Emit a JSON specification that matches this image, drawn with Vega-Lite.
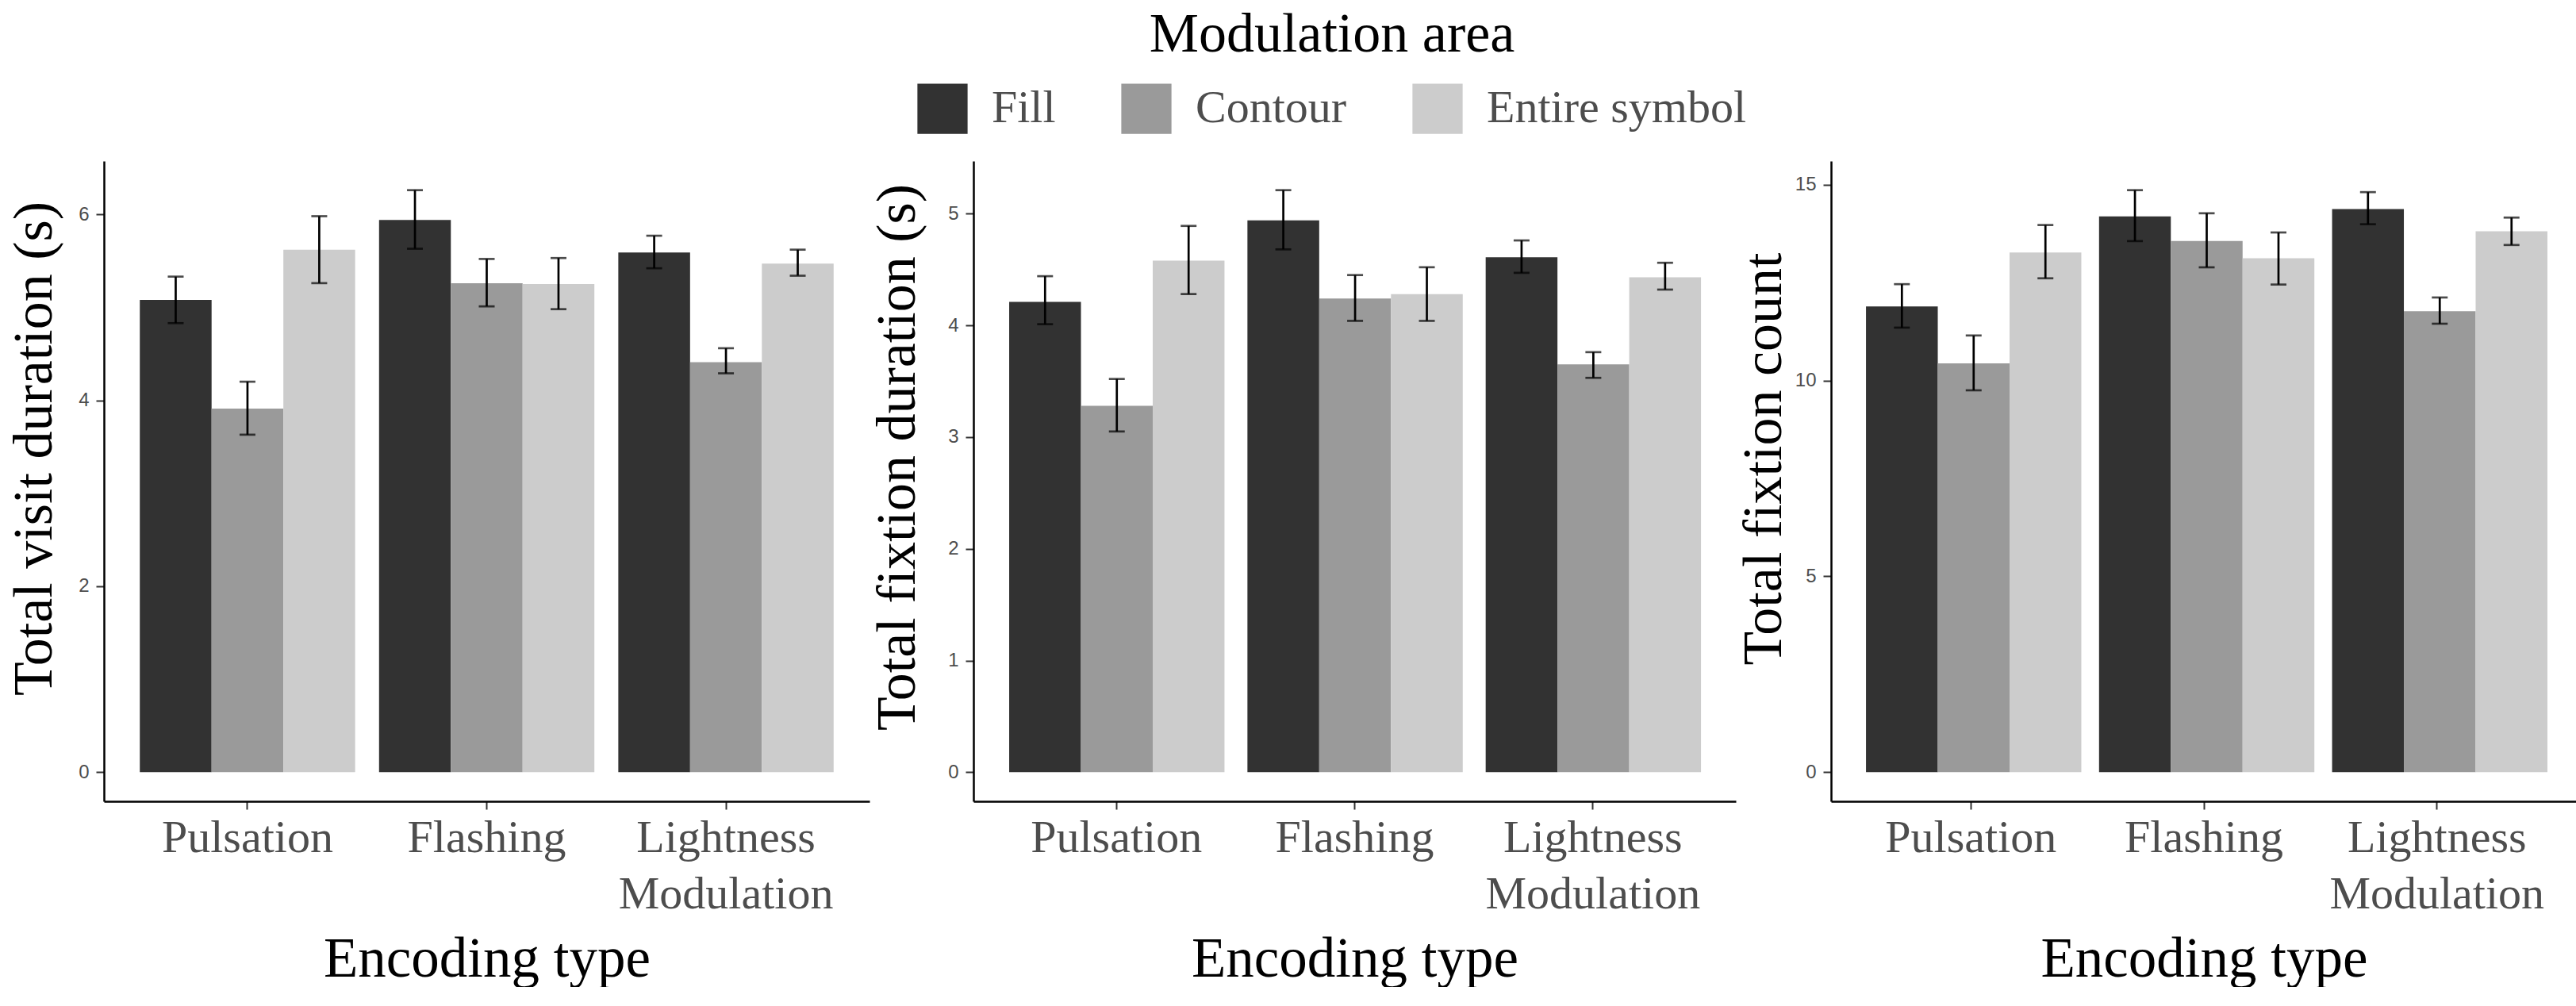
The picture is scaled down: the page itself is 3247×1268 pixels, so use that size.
{
  "$schema": "https://vega.github.io/schema/vega-lite/v6.json",
  "background": "white",
  "padding": {"left": 8, "top": 10, "right": 0, "bottom": 0},
  "data": {"values": [
    {"m": "visit", "enc": "Pulsation", "area": "Fill", "mean": 5.08, "lo": 4.83, "hi": 5.33},
    {"m": "visit", "enc": "Pulsation", "area": "Contour", "mean": 3.91, "lo": 3.63, "hi": 4.20},
    {"m": "visit", "enc": "Pulsation", "area": "Entire symbol", "mean": 5.62, "lo": 5.26, "hi": 5.98},
    {"m": "visit", "enc": "Flashing", "area": "Fill", "mean": 5.94, "lo": 5.63, "hi": 6.26},
    {"m": "visit", "enc": "Flashing", "area": "Contour", "mean": 5.26, "lo": 5.01, "hi": 5.52},
    {"m": "visit", "enc": "Flashing", "area": "Entire symbol", "mean": 5.25, "lo": 4.98, "hi": 5.53},
    {"m": "visit", "enc": "Lightness Modulation", "area": "Fill", "mean": 5.59, "lo": 5.42, "hi": 5.77},
    {"m": "visit", "enc": "Lightness Modulation", "area": "Contour", "mean": 4.41, "lo": 4.29, "hi": 4.56},
    {"m": "visit", "enc": "Lightness Modulation", "area": "Entire symbol", "mean": 5.47, "lo": 5.34, "hi": 5.62},
    {"m": "fixdur", "enc": "Pulsation", "area": "Fill", "mean": 4.21, "lo": 4.01, "hi": 4.44},
    {"m": "fixdur", "enc": "Pulsation", "area": "Contour", "mean": 3.28, "lo": 3.05, "hi": 3.52},
    {"m": "fixdur", "enc": "Pulsation", "area": "Entire symbol", "mean": 4.58, "lo": 4.28, "hi": 4.89},
    {"m": "fixdur", "enc": "Flashing", "area": "Fill", "mean": 4.94, "lo": 4.68, "hi": 5.21},
    {"m": "fixdur", "enc": "Flashing", "area": "Contour", "mean": 4.24, "lo": 4.04, "hi": 4.45},
    {"m": "fixdur", "enc": "Flashing", "area": "Entire symbol", "mean": 4.28, "lo": 4.04, "hi": 4.52},
    {"m": "fixdur", "enc": "Lightness Modulation", "area": "Fill", "mean": 4.61, "lo": 4.47, "hi": 4.76},
    {"m": "fixdur", "enc": "Lightness Modulation", "area": "Contour", "mean": 3.65, "lo": 3.53, "hi": 3.76},
    {"m": "fixdur", "enc": "Lightness Modulation", "area": "Entire symbol", "mean": 4.43, "lo": 4.32, "hi": 4.56},
    {"m": "fixcount", "enc": "Pulsation", "area": "Fill", "mean": 11.89, "lo": 11.35, "hi": 12.46},
    {"m": "fixcount", "enc": "Pulsation", "area": "Contour", "mean": 10.44, "lo": 9.75, "hi": 11.15},
    {"m": "fixcount", "enc": "Pulsation", "area": "Entire symbol", "mean": 13.27, "lo": 12.61, "hi": 13.97},
    {"m": "fixcount", "enc": "Flashing", "area": "Fill", "mean": 14.19, "lo": 13.56, "hi": 14.86},
    {"m": "fixcount", "enc": "Flashing", "area": "Contour", "mean": 13.56, "lo": 12.89, "hi": 14.27},
    {"m": "fixcount", "enc": "Flashing", "area": "Entire symbol", "mean": 13.12, "lo": 12.45, "hi": 13.78},
    {"m": "fixcount", "enc": "Lightness Modulation", "area": "Fill", "mean": 14.38, "lo": 13.99, "hi": 14.81},
    {"m": "fixcount", "enc": "Lightness Modulation", "area": "Contour", "mean": 11.77, "lo": 11.45, "hi": 12.12},
    {"m": "fixcount", "enc": "Lightness Modulation", "area": "Entire symbol", "mean": 13.81, "lo": 13.46, "hi": 14.16}
  ]},
  "config": {
    "font": "Liberation Serif",
    "view": {"stroke": null},
    "axis": {"grid": false, "domainColor": "black", "domainWidth": 2.5, "tickColor": "#333333", "tickWidth": 2, "tickSize": 10, "titleFont": "Liberation Serif", "titleFontWeight": "normal", "titleColor": "black", "labelLimit": 0, "titleLimit": 0},
    "axisX": {"labelFont": "Liberation Serif", "labelFontSize": 58, "labelColor": "#4d4d4d", "labelAngle": 0, "labelPadding": 7, "labelLineHeight": 71, "titleFontSize": 71, "titlePadding": 18},
    "axisY": {"labelFont": "Liberation Sans", "labelFontSize": 24, "labelColor": "#4d4d4d", "labelPadding": 9, "titleFontSize": 70, "titleBaseline": "alphabetic", "format": "d"},
    "legend": {"orient": "none", "direction": "horizontal", "titleOrient": "top", "titleAnchor": "middle", "titleFont": "Liberation Serif", "titleFontSize": 70, "titleFontWeight": "normal", "titleColor": "black", "titleLimit": 0, "labelLimit": 0, "labelFont": "Liberation Serif", "labelFontSize": 58, "labelColor": "#4d4d4d", "symbolType": "square", "symbolSize": 4000, "symbolStrokeWidth": 0, "labelOffset": 30, "columnPadding": 82, "titlePadding": 25}
  },
  "spacing": 0,
  "hconcat": [
    {
      "width": 965, "height": 807,
      "transform": [{"filter": "datum.m == 'visit'"}],
      "encoding": {
        "x": {"field": "enc", "type": "nominal", "sort": ["Pulsation", "Flashing", "Lightness Modulation"], "scale": {"paddingInner": 0.1, "paddingOuter": 0.15}, "title": "Encoding type", "axis": {"labelExpr": "datum.label == 'Lightness Modulation' ? ['Lightness', 'Modulation'] : datum.label"}},
        "xOffset": {"field": "area", "type": "nominal", "sort": ["Fill", "Contour", "Entire symbol"], "scale": {"paddingInner": 0, "paddingOuter": 0}}
      },
      "layer": [
        {"mark": {"type": "bar"}, "encoding": {
          "y": {"field": "mean", "type": "quantitative", "title": "Total visit duration (s)", "scale": {"domain": [-0.313, 6.573], "nice": false, "zero": false}, "axis": {"values": [0, 2, 4, 6], "titleX": -67, "titleY": 362}},
          "color": {"field": "area", "type": "nominal", "sort": ["Fill", "Contour", "Entire symbol"], "scale": {"domain": ["Fill", "Contour", "Entire symbol"], "range": ["#323232", "#9a9a9a", "#cccccc"]}, "legend": {"title": "Modulation area", "legendX": 1025, "legendY": -193}}
        }},
        {"mark": {"type": "rule", "strokeWidth": 2.7, "color": "black"}, "encoding": {"y": {"field": "lo", "type": "quantitative", "title": "Total visit duration (s)"}, "y2": {"field": "hi"}}},
        {"mark": {"type": "tick", "size": 20, "thickness": 2.7, "color": "black"}, "encoding": {"y": {"field": "lo", "type": "quantitative", "title": "Total visit duration (s)"}}},
        {"mark": {"type": "tick", "size": 20, "thickness": 2.7, "color": "black"}, "encoding": {"y": {"field": "hi", "type": "quantitative", "title": "Total visit duration (s)"}}}
      ]
    },
    {
      "width": 961, "height": 807,
      "transform": [{"filter": "datum.m == 'fixdur'"}],
      "encoding": {
        "x": {"field": "enc", "type": "nominal", "sort": ["Pulsation", "Flashing", "Lightness Modulation"], "scale": {"paddingInner": 0.1, "paddingOuter": 0.15}, "title": "Encoding type", "axis": {"labelExpr": "datum.label == 'Lightness Modulation' ? ['Lightness', 'Modulation'] : datum.label"}},
        "xOffset": {"field": "area", "type": "nominal", "sort": ["Fill", "Contour", "Entire symbol"], "scale": {"paddingInner": 0, "paddingOuter": 0}}
      },
      "layer": [
        {"mark": {"type": "bar"}, "encoding": {
          "y": {"field": "mean", "type": "quantitative", "title": "Total fixtion duration (s)", "scale": {"domain": [-0.2605, 5.4705], "nice": false, "zero": false}, "axis": {"values": [0, 1, 2, 3, 4, 5], "titleX": -75, "titleY": 373}},
          "color": {"field": "area", "type": "nominal", "sort": ["Fill", "Contour", "Entire symbol"], "scale": {"domain": ["Fill", "Contour", "Entire symbol"], "range": ["#323232", "#9a9a9a", "#cccccc"]}, "legend": {"title": "Modulation area", "legendX": 1025, "legendY": -193}}
        }},
        {"mark": {"type": "rule", "strokeWidth": 2.7, "color": "black"}, "encoding": {"y": {"field": "lo", "type": "quantitative", "title": "Total fixtion duration (s)"}, "y2": {"field": "hi"}}},
        {"mark": {"type": "tick", "size": 20, "thickness": 2.7, "color": "black"}, "encoding": {"y": {"field": "lo", "type": "quantitative", "title": "Total fixtion duration (s)"}}},
        {"mark": {"type": "tick", "size": 20, "thickness": 2.7, "color": "black"}, "encoding": {"y": {"field": "hi", "type": "quantitative", "title": "Total fixtion duration (s)"}}}
      ]
    },
    {
      "width": 940, "height": 807,
      "transform": [{"filter": "datum.m == 'fixcount'"}],
      "encoding": {
        "x": {"field": "enc", "type": "nominal", "sort": ["Pulsation", "Flashing", "Lightness Modulation"], "scale": {"paddingInner": 0.1, "paddingOuter": 0.15}, "title": "Encoding type", "axis": {"labelExpr": "datum.label == 'Lightness Modulation' ? ['Lightness', 'Modulation'] : datum.label"}},
        "xOffset": {"field": "area", "type": "nominal", "sort": ["Fill", "Contour", "Entire symbol"], "scale": {"paddingInner": 0, "paddingOuter": 0}}
      },
      "layer": [
        {"mark": {"type": "bar"}, "encoding": {
          "y": {"field": "mean", "type": "quantitative", "title": "Total fixtion count", "scale": {"domain": [-0.743, 15.603], "nice": false, "zero": false}, "axis": {"values": [0, 5, 10, 15], "titleX": -64, "titleY": 375}},
          "color": {"field": "area", "type": "nominal", "sort": ["Fill", "Contour", "Entire symbol"], "scale": {"domain": ["Fill", "Contour", "Entire symbol"], "range": ["#323232", "#9a9a9a", "#cccccc"]}, "legend": {"title": "Modulation area", "legendX": 1025, "legendY": -193}}
        }},
        {"mark": {"type": "rule", "strokeWidth": 2.7, "color": "black"}, "encoding": {"y": {"field": "lo", "type": "quantitative", "title": "Total fixtion count"}, "y2": {"field": "hi"}}},
        {"mark": {"type": "tick", "size": 20, "thickness": 2.7, "color": "black"}, "encoding": {"y": {"field": "lo", "type": "quantitative", "title": "Total fixtion count"}}},
        {"mark": {"type": "tick", "size": 20, "thickness": 2.7, "color": "black"}, "encoding": {"y": {"field": "hi", "type": "quantitative", "title": "Total fixtion count"}}}
      ]
    }
  ]
}
